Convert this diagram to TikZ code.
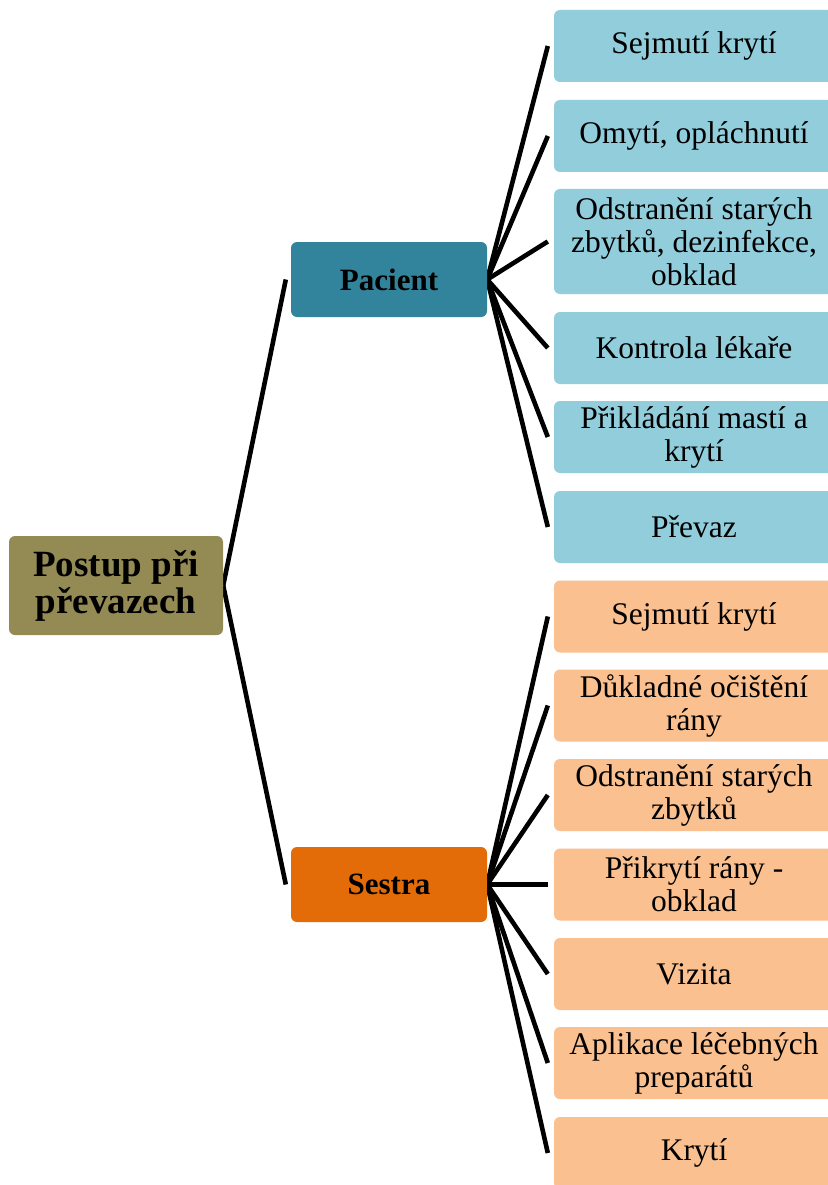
\documentclass[tikz,border=0pt]{standalone}
\usepackage{fontspec}
\setmainfont{Liberation Serif}
\usetikzlibrary{backgrounds}
\definecolor{rootc}{HTML}{948A54}
\definecolor{pacc}{HTML}{31849B}
\definecolor{sesc}{HTML}{E36C09}
\definecolor{leafblue}{HTML}{92CDDC}
\definecolor{leaforange}{HTML}{FAC090}
\tikzset{
  box/.style={rectangle, rounded corners=6pt, inner sep=0pt, align=center, text=black},
  rootbox/.style={box, fill=rootc, minimum width=214pt, minimum height=99pt, font=\fontsize{37}{37}\selectfont\bfseries},
  midbox/.style={box, minimum width=196pt, minimum height=75pt, font=\fontsize{31}{33}\selectfont\bfseries},
  leafbox/.style={box, minimum width=280pt, minimum height=72pt, font=\fontsize{31.5}{33}\selectfont},
  bleaf/.style={leafbox, fill=leafblue},
  oleaf/.style={leafbox, fill=leaforange},
  conn/.style={line width=4.6pt, black}
}
\begin{document}
\begin{tikzpicture}[x=1pt,y=-1pt]
\useasboundingbox (0,0) rectangle (827,1185);
% root and branches
\node[rootbox] (root) at (116,585.5) {Postup při\\převazech};
\node[midbox, fill=pacc] (pac) at (389,279.5) {Pacient};
\node[midbox, fill=sesc] (ses) at (389,884.5) {Sestra};
% Pacient leaves
\node[bleaf] (p1) at (694,46) {Sejmutí krytí};
\node[bleaf] (p2) at (694,136) {Omytí, opláchnutí};
\node[bleaf, minimum height=105pt] (p3) at (694,241.5) {Odstranění starých\\zbytků, dezinfekce,\\obklad};
\node[bleaf] (p4) at (694,348) {Kontrola lékaře};
\node[bleaf] (p5) at (694,437) {Přikládání mastí a\\krytí};
\node[bleaf] (p6) at (694,527) {Převaz};
% Sestra leaves
\node[oleaf] (s1) at (694,616.5) {Sejmutí krytí};
\node[oleaf] (s2) at (694,705.5) {Důkladné očištění\\rány};
\node[oleaf] (s3) at (694,795) {Odstranění starých\\zbytků};
\node[oleaf] (s4) at (694,884.5) {Přikrytí rány -\\obklad};
\node[oleaf] (s5) at (694,974) {Vizita};
\node[oleaf] (s6) at (694,1063) {Aplikace léčebných\\preparátů};
\node[oleaf] (s7) at (694,1153) {Krytí};
% connectors
\begin{scope}[on background layer]
\fill[white] (0,0) rectangle (827,1185);
\draw[conn] (root.east) -- ([xshift=-5pt]pac.west);
\draw[conn] (root.east) -- ([xshift=-5pt]ses.west);
\foreach \c in {p1,p2,p3,p4,p5,p6}
  \draw[conn] (pac.east) -- ([xshift=-6pt]\c.west);
\foreach \c in {s1,s2,s3,s4,s5,s6,s7}
  \draw[conn] (ses.east) -- ([xshift=-6pt]\c.west);
\end{scope}
\end{tikzpicture}
\end{document}
